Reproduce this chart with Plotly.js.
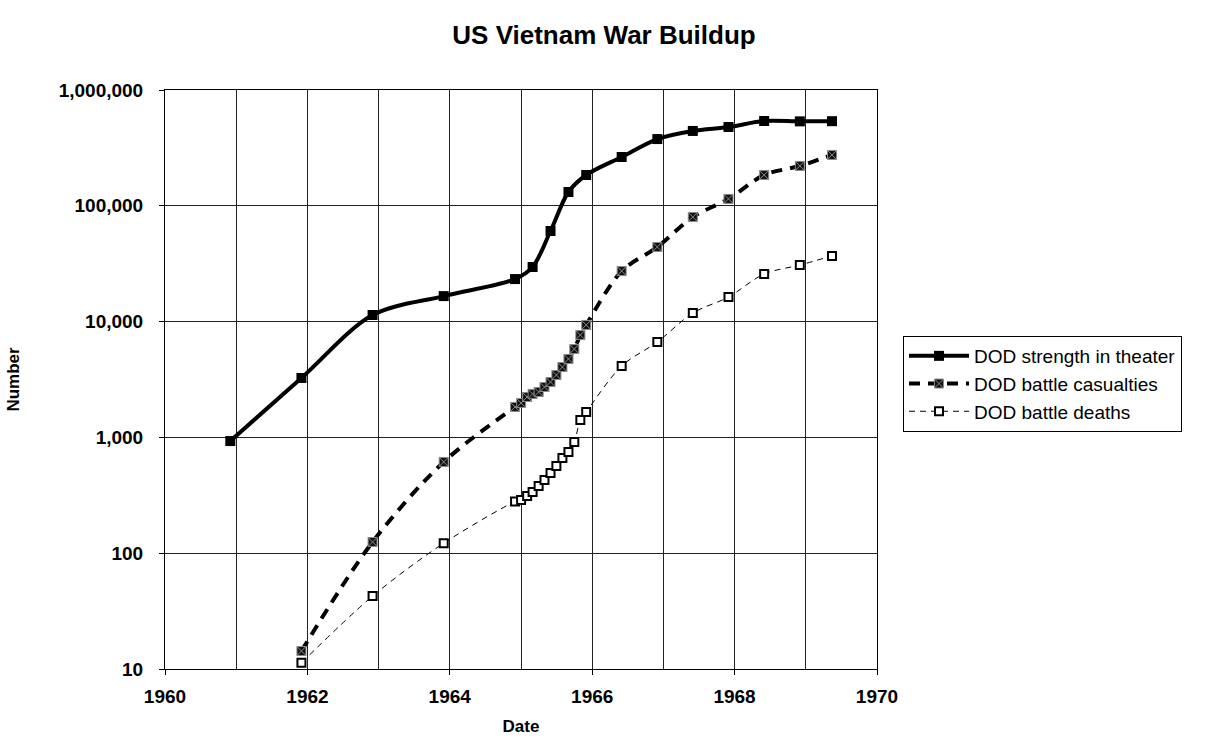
<!DOCTYPE html>
<html>
<head>
<meta charset="utf-8">
<script src="https://cdn.plot.ly/plotly-3.0.1.min.js"></script>
<style>
  html, body { margin: 0; padding: 0; background: #fff; }
  #chart { width: 1212px; height: 743px; }
</style>
</head>
<body>
<div id="chart"></div>
<script>
/* US Vietnam War Buildup: three log-scale series */
var strengthDates = ["1960-12-01", "1961-12-01", "1962-12-01", "1963-12-01", "1964-12-01",
  "1965-03-01", "1965-06-01", "1965-09-01", "1965-12-01", "1966-06-01", "1966-12-01",
  "1967-06-01", "1967-12-01", "1968-06-01", "1968-12-01", "1969-05-15"];
var strengthValues = [930, 3260, 11400, 16600, 23300, 29600, 60600, 131600, 184500,
  264000, 377000, 443000, 479000, 540000, 536000, 538000];

var lossDates = ["1961-12-01", "1962-12-01", "1963-12-01", "1964-12-01",
  "1965-01-01", "1965-02-01", "1965-03-01", "1965-04-01", "1965-05-01", "1965-06-01",
  "1965-07-01", "1965-08-01", "1965-09-01", "1965-10-01", "1965-11-01", "1965-12-01",
  "1966-06-01", "1966-12-01", "1967-06-01", "1967-12-01", "1968-06-01", "1968-12-01", "1969-05-15"];
var casualtyValues = [14.3, 125, 614, 1833, 1983, 2233, 2374, 2467, 2724, 3007, 3456,
  4052, 4756, 5797, 7650, 9360, 27300, 44100, 80000, 114700, 184600, 221000, 275000];
var deathValues = [11.3, 42.6, 122, 279, 288, 312, 337, 380, 428, 493, 567, 664, 748,
  912, 1413, 1657, 4140, 6670, 11860, 16300, 25800, 30800, 36900];

var seriesNames = ["DOD strength in theater", "DOD battle casualties", "DOD battle deaths"];
var yTickVals = [10, 100, 1000, 10000, 100000, 1000000];
var yTickText = ["10", "100", "1,000", "10,000", "100,000", "1,000,000"];

(function () {
  "use strict";
  var FONT = "'Liberation Sans', Arial, Helvetica, sans-serif";
  var INK = "#000";

  var traces = [
    {
      type: "scatter", mode: "lines+markers", name: seriesNames[0],
      x: strengthDates, y: strengthValues,
      line: { color: INK, width: 4, shape: "spline", smoothing: 0.9 },
      marker: { symbol: "square", size: 10, color: INK, line: { color: INK, width: 0 } }
    },
    {
      type: "scatter", mode: "lines+markers", name: seriesNames[1],
      x: lossDates, y: casualtyValues,
      line: { color: INK, width: 4, dash: "11px,8px", shape: "spline", smoothing: 0.9 },
      marker: { symbol: "square-x", size: 9, color: "#111", line: { color: "#8a8a8a", width: 1 } }
    },
    {
      type: "scatter", mode: "lines+markers", name: seriesNames[2],
      x: lossDates, y: deathValues,
      line: { color: INK, width: 1, dash: "6px,5px", shape: "spline", smoothing: 0.9 },
      marker: { symbol: "square", size: 8, color: "#fff", line: { color: INK, width: 2 } }
    }
  ];

  var layout = {
    width: 1212, height: 743,
    margin: { l: 165, r: 335, t: 90, b: 74 },
    paper_bgcolor: "#fff", plot_bgcolor: "#fff",
    font: { family: FONT, color: INK, size: 17 },
    title: {
      text: "<b>US Vietnam War Buildup</b>",
      font: { family: FONT, size: 26, color: INK },
      x: 604 / 1212, xanchor: "center", xref: "container",
      y: 1 - 35 / 743, yanchor: "middle", yref: "container"
    },
    xaxis: {
      type: "date", range: ["1960-01-01", "1970-01-01"],
      tick0: "1960-01-01", dtick: "M24", tickformat: "%Y",
      tickfont: { family: FONT, size: 19, color: INK, weight: "bold" },
      ticks: "outside", ticklen: 5, tickcolor: INK, ticklabelstandoff: 5,
      showgrid: true, gridcolor: "#222", gridwidth: 1,
      minor: { dtick: "M12", tick0: "1960-01-01", showgrid: true, gridcolor: "#222", gridwidth: 1 },
      showline: true, linecolor: INK, linewidth: 1, mirror: true, zeroline: false,
      title: { text: "<b>Date</b>", font: { family: FONT, size: 17, color: INK }, standoff: 14 }
    },
    yaxis: {
      type: "log", range: [1, 6],
      tickvals: yTickVals, ticktext: yTickText,
      tickfont: { family: FONT, size: 19, color: INK, weight: "bold" },
      ticks: "outside", ticklen: 5, tickcolor: INK, ticklabelstandoff: 12,
      showgrid: true, gridcolor: "#222", gridwidth: 1,
      showline: true, linecolor: INK, linewidth: 1, mirror: true, zeroline: false,
      title: { text: "<b>Number</b>", font: { family: FONT, size: 17, color: INK }, standoff: 34 }
    },
    showlegend: true,
    legend: {
      x: (903 - 165) / 712, xanchor: "left",
      y: (669 - 336) / 579, yanchor: "top",
      bgcolor: "#fff", bordercolor: INK, borderwidth: 1,
      font: { family: FONT, size: 19, color: INK },
      itemwidth: 60, tracegroupgap: 0
    }
  };

  Plotly.newPlot("chart", traces, layout, { displayModeBar: false, staticPlot: true });
})();
</script>
</body>
</html>
